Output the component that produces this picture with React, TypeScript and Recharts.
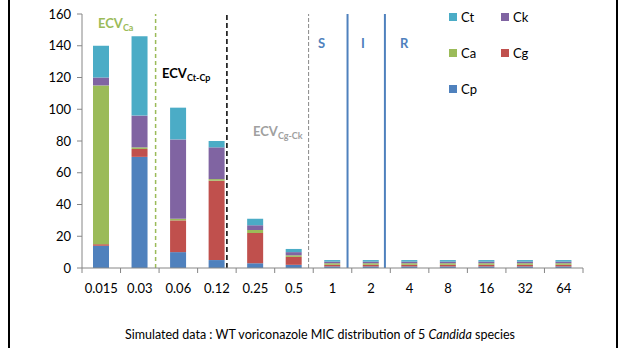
import { BarChart, Bar, XAxis, YAxis, ReferenceLine } from 'recharts';

const categories = ['0.015', '0.03', '0.06', '0.12', '0.25', '0.5', '1', '2', '4', '8', '16', '32', '64'];
const cp = [14, 70, 10, 5, 3, 2, 1, 1, 1, 1, 1, 1, 1];
const cg = [1, 5, 20, 50, 19, 5, 1, 1, 1, 1, 1, 1, 1];
const ca = [100, 1, 1, 1, 2, 1, 1, 1, 1, 1, 1, 1, 1];
const ck = [5, 20, 50, 20, 3, 2, 1, 1, 1, 1, 1, 1, 1];
const ct = [20, 50, 20, 4, 4, 2, 1, 1, 1, 1, 1, 1, 1];
const yTicks = [0, 20, 40, 60, 80, 100, 120, 140, 160];

// cut-offs, in category units along the x axis
const ecvCa = 1.91;
const ecvCtCp = 3.76;
const ecvCgCk = 5.88;
const bpS = 6.89;
const bpR = 7.86;

const data = categories.map((name, i) => ({
    name,
    pos: i + 0.5,
    Cp: cp[i],
    Cg: cg[i],
    Ca: ca[i],
    Ck: ck[i],
    Ct: ct[i],
}));

const W = 618;
const H = 348;
const M = { top: 14, right: 35, bottom: 50, left: 0 };
const Y_W = 82;
const band = (W - M.left - M.right - Y_W) / categories.length;
const font = 'Lato, "Open Sans", sans-serif';

const colors: Record<string, string> = {
    Ct: '#4BACC6',
    Ck: '#8064A2',
    Ca: '#9BBB59',
    Cg: '#C0504D',
    Cp: '#4F81BD',
};

const XTick = (props: any) => {
    const { x, y, payload, index } = props;
    const last = index === categories.length - 1;
    return (
        <g>
            <line x1={x - band / 2} x2={x - band / 2} y1={y} y2={y + 5} stroke="#868686" />
            {last && <line x1={x + band / 2} x2={x + band / 2} y1={y} y2={y + 5} stroke="#868686" />}
            <text x={x} y={y + 25} textAnchor="middle" fontSize={13} fill="#000" fontFamily={font}>
                {payload.value}
            </text>
        </g>
    );
};

const label = (left: number, top: number, color: string): React.CSSProperties => ({
    position: 'absolute',
    left,
    top,
    color,
    fontWeight: 'bold',
    fontSize: 13,
    fontFamily: font,
    whiteSpace: 'nowrap',
    lineHeight: '16px',
});

const sub: React.CSSProperties = { fontSize: 9, verticalAlign: -3 };

export default function App() {
    const legendItems = [
        ['Ct', 449, 17],
        ['Ck', 501, 17],
        ['Ca', 449, 53],
        ['Cg', 501, 53],
        ['Cp', 449, 89],
    ] as const;

    return (
        <div style={{ position: 'absolute', left: 0, top: 0, width: W, height: H, background: '#fff' }}>
            <BarChart width={W} height={H} data={data} margin={M} barSize={16}>
                <XAxis
                    dataKey="name"
                    interval={0}
                    tickLine={false}
                    tickSize={0}
                    tickMargin={0}
                    height={30}
                    stroke="#868686"
                    tick={<XTick />}
                />
                <XAxis
                    xAxisId="num"
                    dataKey="pos"
                    type="number"
                    domain={[0, categories.length]}
                    allowDataOverflow
                    hide
                />
                <YAxis
                    width={Y_W}
                    domain={[0, 160]}
                    ticks={yTicks}
                    interval={0}
                    stroke="#868686"
                    tickSize={5}
                    tickMargin={6}
                    tick={{ fill: '#000', fontSize: 13, fontFamily: font }}
                />
                <Bar dataKey="Cp" stackId="a" fill={colors.Cp} isAnimationActive={false} />
                <Bar dataKey="Cg" stackId="a" fill={colors.Cg} isAnimationActive={false} />
                <Bar dataKey="Ca" stackId="a" fill={colors.Ca} isAnimationActive={false} />
                <Bar dataKey="Ck" stackId="a" fill={colors.Ck} isAnimationActive={false} />
                <Bar dataKey="Ct" stackId="a" fill={colors.Ct} isAnimationActive={false} />
                <ReferenceLine xAxisId="num" x={ecvCa} stroke="#9BBB59" strokeWidth={1.5} strokeDasharray="4 3" />
                <ReferenceLine xAxisId="num" x={ecvCtCp} stroke="#000" strokeWidth={1.5} strokeDasharray="5 3" />
                <ReferenceLine xAxisId="num" x={ecvCgCk} stroke="#888" strokeWidth={1} strokeDasharray="4 2" />
                <ReferenceLine xAxisId="num" x={bpS} stroke="#4F81BD" strokeWidth={2} />
                <ReferenceLine xAxisId="num" x={bpR} stroke="#4F81BD" strokeWidth={2} />
            </BarChart>

            <div style={label(98, 15, '#9BBB59')}>
                ECV<span style={sub}>Ca</span>
            </div>
            <div style={label(162, 65, '#000')}>
                ECV<span style={sub}>Ct-Cp</span>
            </div>
            <div style={label(253, 123, '#A0A0A0')}>
                ECV<span style={sub}>Cg-Ck</span>
            </div>
            <div style={label(318, 35, '#4F81BD')}>S</div>
            <div style={label(361, 35, '#4F81BD')}>I</div>
            <div style={label(400, 35, '#4F81BD')}>R</div>

            {legendItems.map(([name, x, y]) => (
                <div
                    key={name}
                    style={{
                        position: 'absolute',
                        left: x,
                        top: y - 8,
                        height: 16,
                        display: 'flex',
                        alignItems: 'center',
                        fontFamily: font,
                        fontSize: 13,
                        color: '#000',
                    }}
                >
                    <span style={{ width: 8, height: 8, background: colors[name], marginRight: 4 }} />
                    {name}
                </div>
            ))}

            <div
                style={{
                    position: 'absolute',
                    left: 0,
                    width: 640,
                    top: 327,
                    textAlign: 'center',
                    fontFamily: font,
                    fontSize: 12.5,
                    color: '#000',
                }}
            >
                Simulated data : WT voriconazole MIC distribution of 5 <i>Candida</i> species
            </div>

            <div style={{ position: 'absolute', left: 8, top: 0, width: 2, height: H, background: '#000' }} />
            <div style={{ position: 'absolute', left: 616, top: 0, width: 2, height: H, background: '#000' }} />
        </div>
    );
}
